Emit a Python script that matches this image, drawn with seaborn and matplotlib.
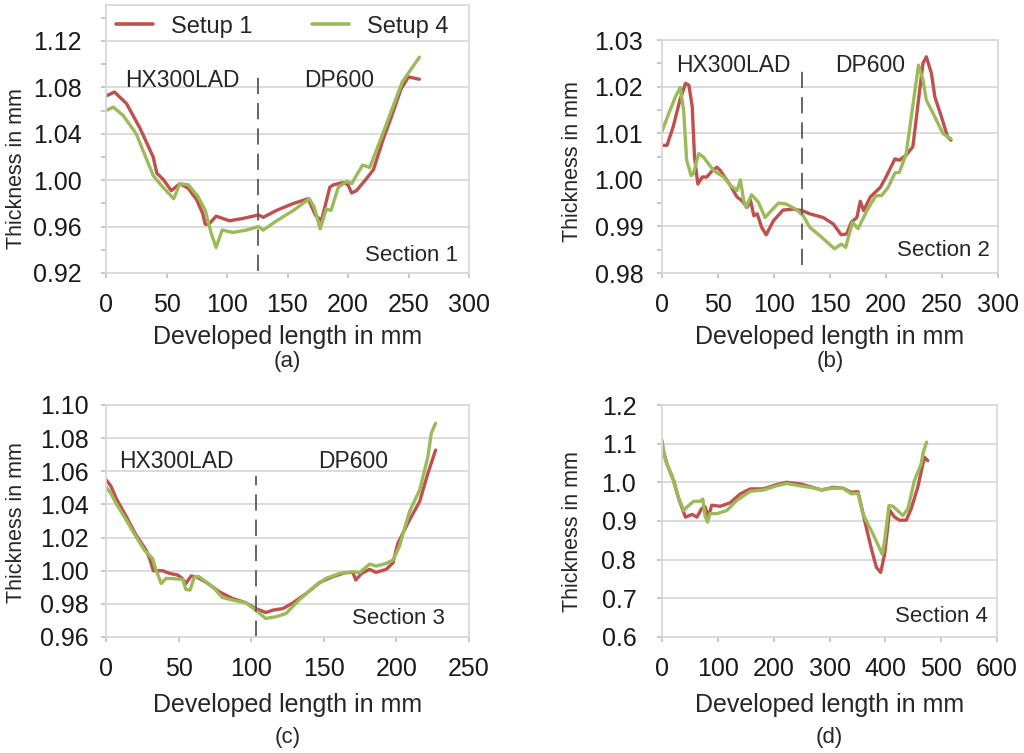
import matplotlib
matplotlib.use("Agg")
import matplotlib.pyplot as plt
import numpy as np
import pandas as pd
import seaborn as sns
from matplotlib.ticker import MultipleLocator

RED = "#C0504D"
GREEN = "#9BBB59"
GRID = "#D9D9D9"

# Section 1
s1_x_red = [0, 7, 17, 28, 39, 42, 47, 54, 61, 68, 75, 80, 82, 85, 91, 102, 113, 126, 130, 141,
            155, 167, 173, 178, 185, 188, 196, 200, 203, 207, 215, 221, 229, 236, 244, 250, 259]
s1_y_red = [1.0725, 1.076, 1.066, 1.045, 1.020, 1.006, 1.001, 0.991, 0.997, 0.993, 0.983, 0.971, 0.962,
            0.962, 0.969, 0.965, 0.967, 0.970, 0.968, 0.974, 0.980, 0.984, 0.970, 0.965, 0.994, 0.996,
            0.998, 0.996, 0.989, 0.991, 1.001, 1.009, 1.035, 1.055, 1.079, 1.089, 1.087]
s1_x_green = [0, 6, 14, 25, 39, 47, 56, 61, 68, 76, 82, 87, 91, 96, 105, 116, 126, 130, 141, 155,
              168, 172, 177, 182, 186, 192, 199, 203, 212, 218, 232, 237, 245, 259]
s1_y_green = [1.060, 1.063, 1.056, 1.040, 1.004, 0.994, 0.984, 0.997, 0.996, 0.986, 0.974, 0.954, 0.942,
              0.957, 0.955, 0.957, 0.960, 0.957, 0.965, 0.974, 0.984, 0.977, 0.958, 0.975, 0.974, 0.994,
              0.999, 0.997, 1.013, 1.011, 1.049, 1.063, 1.085, 1.106]

# Section 2
s2_x_red = [0, 4.5, 10, 16, 21, 24, 27, 29, 32, 36, 40, 45, 49, 52, 61, 67, 71, 76, 79, 82, 85, 89,
            93, 99.5, 108, 117, 125, 132, 144, 153, 160, 165, 169, 174, 177, 180, 186, 195, 200,
            208, 212, 218, 224, 229, 233, 236, 240.6, 243.6, 249.5, 255, 258]
s2_y_red = [1.0074, 1.0074, 1.0114, 1.0171, 1.0207, 1.0203, 1.0157, 1.005, 0.9991, 1.0006, 1.0006,
            1.002, 1.0027, 1.002, 0.9988, 0.9963, 0.9956, 0.9941, 0.9956, 0.9923, 0.9927, 0.9898,
            0.9882, 0.9912, 0.9935, 0.9937, 0.9934, 0.9927, 0.9919, 0.9905, 0.9882, 0.9884, 0.9909,
            0.9919, 0.9954, 0.9934, 0.9963, 0.9984, 1.0006, 1.0045, 1.0042, 1.0053, 1.0071, 1.0171,
            1.025, 1.0264, 1.0228, 1.0178, 1.0135, 1.0092, 1.0085]
s2_x_green = [0, 6, 12, 16.3, 19.3, 22, 26, 28, 32.7, 37, 46, 55, 61, 65, 67, 70, 73, 75, 80, 86,
              92, 98, 104, 111, 120, 126, 132, 141, 154, 160, 164, 170, 175, 183, 191, 196, 202,
              208, 212, 218, 223, 229, 233, 236, 243.6, 251, 258]
s2_y_green = [1.0104, 1.0142, 1.0178, 1.0198, 1.015, 1.0042, 1.0009, 1.0013, 1.0056, 1.0049, 1.002,
              1.0006, 0.9988, 0.9981, 0.9977, 1.0, 0.9955, 0.9941, 0.9968, 0.9952, 0.9919, 0.9935,
              0.995, 0.9948, 0.9936, 0.9923, 0.9898, 0.988, 0.9852, 0.9862, 0.9855, 0.9909, 0.9895,
              0.9934, 0.9966, 0.9966, 0.9984, 1.0015, 1.0016, 1.0056, 1.0142, 1.0246, 1.0214,
              1.0171, 1.0135, 1.0099, 1.0088]

# Section 3
s3_x_red = [0, 3.4, 7, 14, 20.7, 27.6, 30, 32.6, 39, 43.7, 49.4, 52.4, 55, 58.6, 62, 69, 78, 87,
            96.5, 103, 110, 115, 122, 128.7, 138, 147, 156, 165, 170, 172, 176, 181.5, 186, 193,
            197.6, 201, 209, 216, 221.7, 227]
s3_y_red = [1.055, 1.051, 1.0436, 1.0326, 1.0215, 1.0125, 1.0075, 1.0, 1.0, 0.9984, 0.9974, 0.9954,
            0.9923, 0.9968, 0.9964, 0.993, 0.9873, 0.9833, 0.9806, 0.9772, 0.9748, 0.9762, 0.9772,
            0.9806, 0.9863, 0.9928, 0.9964, 0.9988, 0.999, 0.9944, 0.9984, 1.0008, 0.999, 1.0008,
            1.0048, 1.0165, 1.0306, 1.0417, 1.0588, 1.0728]
s3_x_green = [0, 3.4, 7, 14, 20.7, 26.4, 32, 34.5, 38, 41.4, 46, 52.8, 55, 57.9, 60.9, 64, 73.5, 80,
              87, 96.5, 103, 110, 117, 124, 133, 142, 151.5, 161, 170, 174.6, 181.5, 186, 193,
              197.6, 202, 209, 216, 221.7, 224, 227]
s3_y_green = [1.0506, 1.0466, 1.0405, 1.0305, 1.0205, 1.0125, 1.0075, 1.0004, 0.9923, 0.9954,
              0.9952, 0.9948, 0.9887, 0.9883, 0.9964, 0.9964, 0.9903, 0.9839, 0.9823, 0.9806,
              0.9762, 0.9712, 0.9722, 0.9742, 0.9823, 0.9893, 0.9954, 0.9984, 0.9994, 0.9988,
              1.004, 1.0028, 1.0044, 1.0064, 1.0145, 1.0356, 1.0487, 1.0688, 1.0829, 1.089]

# Section 4
s4_x_red = [0, 3, 9, 21, 30, 42, 54, 62.5, 71, 77, 83, 89, 104, 122, 140, 158, 181.5, 205, 223,
            247, 265, 286, 306.5, 324, 339, 351, 363, 375, 384, 391.7, 398.8, 407.7, 416.7, 425.6,
            437.5, 446.4, 458, 470, 476]
s4_y_red = [1.069, 1.078, 1.047, 1.004, 0.957, 0.910, 0.917, 0.910, 0.932, 0.937, 0.910, 0.941,
            0.938, 0.947, 0.970, 0.983, 0.983, 0.994, 1.0, 0.996, 0.989, 0.980, 0.987, 0.985, 0.974,
            0.976, 0.901, 0.828, 0.780, 0.767, 0.815, 0.928, 0.910, 0.902, 0.902, 0.932, 0.987,
            1.065, 1.056]
s4_x_green = [0, 6, 18, 27, 39, 44.6, 56.5, 68.5, 73, 77, 81.5, 86, 98, 116, 134, 158, 181.5, 205,
              223, 247, 265, 286, 306.5, 324, 339, 351, 360, 378, 394.6, 398.8, 406.5, 413.7,
              431.5, 440.5, 452, 464, 468, 474]
s4_y_green = [1.109, 1.057, 1.017, 0.970, 0.927, 0.936, 0.951, 0.951, 0.957, 0.914, 0.897, 0.919,
              0.919, 0.927, 0.953, 0.977, 0.980, 0.991, 0.997, 0.991, 0.987, 0.981, 0.985, 0.985,
              0.970, 0.972, 0.918, 0.866, 0.814, 0.849, 0.940, 0.938, 0.914, 0.932, 1.004, 1.047,
              1.078, 1.104]

sections = [
    dict(xr=s1_x_red, yr=s1_y_red, xg=s1_x_green, yg=s1_y_green, name="Section 1",
         rect=[106, 5, 469, 273], xlim=(0, 300), xstep=50, ylim=(0.92, 1.151), ystep=0.04, minor=0.02,
         fmt="{:.2f}", ypad=14, split=126, split_y=(0.922, 1.09), mat_y=1.086, mat_x=(63, 193),
         sec_xy=(291, 0.9355), letter="(a)", letter_y=362, xlabel_y=337, ylabel_xy=(17, 169)),
    dict(xr=s2_x_red, yr=s2_y_red, xg=s2_x_green, yg=s2_y_green, name="Section 2",
         rect=[662, 40, 998, 273], xlim=(0, 300), xstep=50, ylim=(0.98, 1.03), ystep=0.01, minor=0.005,
         fmt="{:.2f}", ypad=10, split=125, split_y=(0.9818, 1.0235), mat_y=1.0245, mat_x=(64, 186),
         sec_xy=(293, 0.9849), letter="(b)", letter_y=362, xlabel_y=337, ylabel_xy=(573, 162)),
    dict(xr=s3_x_red, yr=s3_y_red, xg=s3_x_green, yg=s3_y_green, name="Section 3",
         rect=[106, 405, 469, 637], xlim=(0, 250), xstep=50, ylim=(0.96, 1.10), ystep=0.02, minor=None,
         fmt="{:.2f}", ypad=9, split=103.4, split_y=(0.96, 1.057), mat_y=1.0658, mat_x=(48.7, 170),
         sec_xy=(233.5, 0.9709), letter="(c)", letter_y=737, xlabel_y=705, ylabel_xy=(17, 523)),
    dict(xr=s4_x_red, yr=s4_y_red, xg=s4_x_green, yg=s4_y_green, name="Section 4",
         rect=[662, 405, 997, 637], xlim=(0, 600), xstep=100, ylim=(0.6, 1.2), ystep=0.1, minor=None,
         fmt="{:.1f}", ypad=15, split=None, split_y=None, mat_y=None, mat_x=None,
         sec_xy=(584, 0.6526), letter="(d)", letter_y=737, xlabel_y=705, ylabel_xy=(573, 532)),
]

W, H = 1024, 753
sns.set_theme(style="white")
plt.rcParams["font.family"] = ["Liberation Sans", "DejaVu Sans"]

fig = plt.figure(figsize=(W / 100, H / 100), dpi=100)

for i, s in enumerate(sections):
    l, t, r, b = s["rect"]
    ax = fig.add_axes([l / W, 1 - b / H, (r - l) / W, (b - t) / H])
    df = pd.concat([
        pd.DataFrame({"x": s["xr"], "y": s["yr"], "setup": "Setup 1"}),
        pd.DataFrame({"x": s["xg"], "y": s["yg"], "setup": "Setup 4"}),
    ])
    sns.lineplot(data=df, x="x", y="y", hue="setup", palette={"Setup 1": RED, "Setup 4": GREEN},
                 sort=False, estimator=None, linewidth=2.4, ax=ax, legend=(i == 0))
    for ln in ax.get_lines():
        ln.set_solid_joinstyle("round")
        ln.set_solid_capstyle("round")
    ax.set_xlim(*s["xlim"])
    ax.set_ylim(*s["ylim"])
    ax.set_xticks(np.arange(s["xlim"][0], s["xlim"][1] + 1, s["xstep"]))
    yt = np.arange(s["ylim"][0], s["ylim"][1] + 1e-9, s["ystep"])
    ax.set_yticks(yt)
    ax.set_yticklabels([s["fmt"].format(v) for v in yt])
    if s["minor"]:
        ax.yaxis.set_minor_locator(MultipleLocator(s["minor"]))
    ax.grid(axis="y", which="major", color=GRID, linewidth=1.3)
    ax.set_axisbelow(True)
    for sp in ax.spines.values():
        sp.set_color(GRID)
        sp.set_linewidth(1.3)
    ax.tick_params(axis="both", which="both", direction="out", color="#BFBFBF", width=1.2,
                   length=3.5, labelsize=18, labelcolor="#1a1a1a")
    ax.tick_params(axis="x", bottom=True, pad=11)
    ax.tick_params(axis="y", which="both", left=True, pad=s["ypad"])
    ax.set_xlabel("")
    ax.set_ylabel("")

    if s["split"] is not None:
        ax.plot([s["split"], s["split"]], list(s["split_y"]), color="#595959", linewidth=1.3,
                dashes=(9, 5))
        ax.text(s["mat_x"][0], s["mat_y"], "HX300LAD", fontsize=16.5, color="#262626",
                ha="center", va="center")
        ax.text(s["mat_x"][1], s["mat_y"], "DP600", fontsize=16.5, color="#262626",
                ha="center", va="center")
    ax.text(s["sec_xy"][0], s["sec_xy"][1], s["name"], fontsize=16, color="#262626",
            ha="right", va="center")

    cx = (l + r) / 2 / W
    fig.text(cx, 1 - s["xlabel_y"] / H, "Developed length in mm", fontsize=18, color="#262626",
             ha="center", va="center")
    fig.text(cx, 1 - s["letter_y"] / H, s["letter"], fontsize=16, color="#262626",
             ha="center", va="center")
    fig.text(s["ylabel_xy"][0] / W, 1 - s["ylabel_xy"][1] / H, "Thickness in mm", fontsize=15.5,
             color="#262626", rotation=90, ha="center", va="center")

    if i == 0:
        leg = ax.legend(loc="upper center", ncol=2, frameon=False, fontsize=17,
                        bbox_to_anchor=(0.485, 1.04), columnspacing=2.5, handlelength=1.6,
                        handletextpad=0.75)
        for h in leg.get_lines():
            h.set_linewidth(2.6)

fig.savefig("out.png", dpi=100)
